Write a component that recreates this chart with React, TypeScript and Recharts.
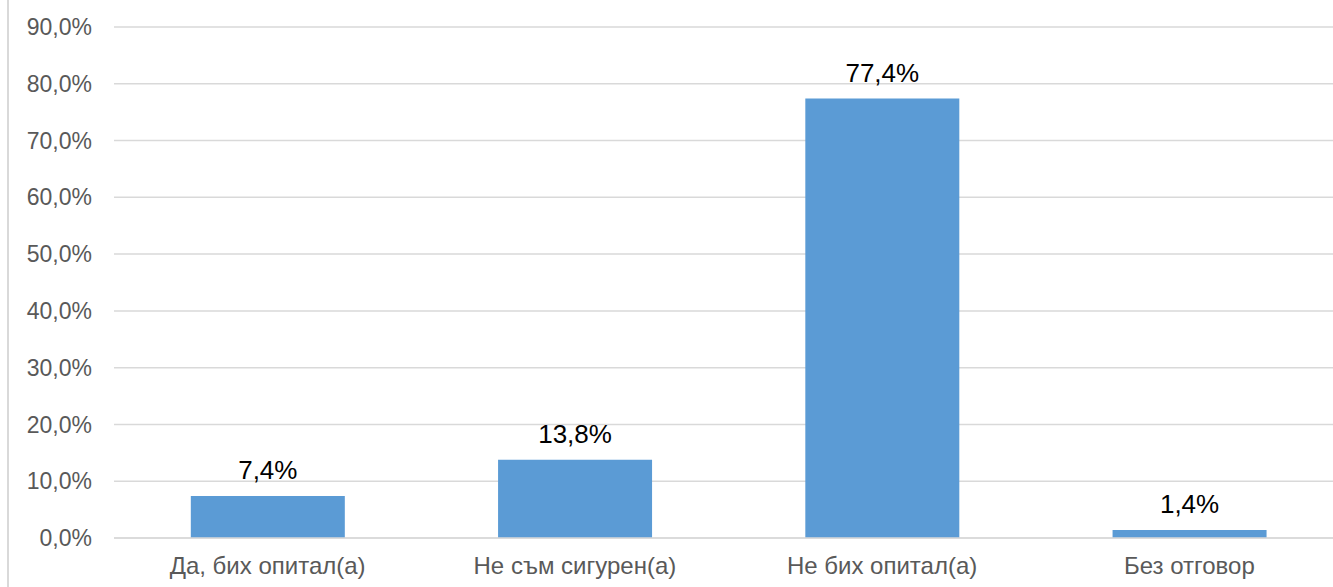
import { Bar, BarChart, CartesianGrid, LabelList, XAxis, YAxis } from 'recharts';

const categories = ['Да, бих опитал(а)', 'Не съм сигурен(а)', 'Не бих опитал(а)', 'Без отговор'];
const shares = [7.4, 13.8, 77.4, 1.4];
const yTicks = [0, 10, 20, 30, 40, 50, 60, 70, 80, 90];

const fmt = (v: number) => `${v.toFixed(1).replace('.', ',')}%`;

export default function App() {
  const data = categories.map((name, i) => ({ name, value: shares[i] }));
  // plot runs a little past the right edge in the source image, so the chart is cropped
  return (
    <div style={{ position: 'absolute', left: 0, top: 0, width: 1333, height: 587, overflow: 'hidden', background: '#fff', fontFamily: '"Liberation Sans", Arial, sans-serif' }}>
      <div style={{ position: 'absolute', left: 7, top: 0, width: 2, height: 587, background: '#D9D9D9' }} />
      <BarChart width={1343} height={587} data={data} margin={{ top: 27, right: 0, bottom: 0, left: 0 }} barCategoryGap="25%">
        <CartesianGrid stroke="#D9D9D9" strokeWidth={1.5} vertical={false} />
        <XAxis dataKey="name" height={49} tickSize={0} tickMargin={19} axisLine={{ stroke: '#D9D9D9', strokeWidth: 1.5 }}
          tick={{ fill: '#595959', fontSize: 24 }} interval={0} />
        <YAxis domain={[0, 90]} ticks={yTicks} width={114} tickSize={0} tickMargin={22} axisLine={false}
          tick={{ fill: '#595959', fontSize: 23 }} tickFormatter={fmt} interval={0} />
        <Bar dataKey="value" fill="#5B9BD5" isAnimationActive={false}>
          <LabelList dataKey="value" position="top" offset={17} formatter={(v) => fmt(Number(v))}
            style={{ fill: '#000', fontSize: 26 }} />
        </Bar>
      </BarChart>
    </div>
  );
}
